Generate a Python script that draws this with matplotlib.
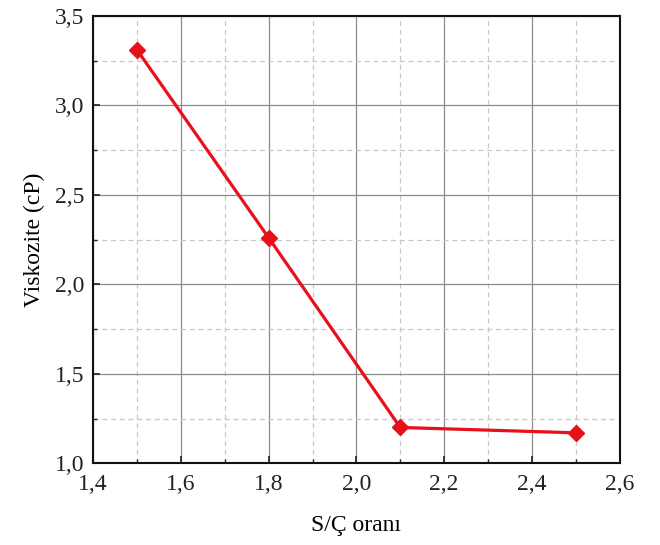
import matplotlib
matplotlib.use("Agg")
import matplotlib.pyplot as plt
from matplotlib.ticker import MultipleLocator, FuncFormatter

sc_ratio = [1.5, 1.8, 2.1, 2.5]
viscosity = [3.31, 2.26, 1.20, 1.17]
x_label = "S/Ç oranı"
y_label = "Viskozite (cP)"

plt.rcParams['font.family'] = ['Liberation Serif', 'DejaVu Serif']

fig = plt.figure(figsize=(6.6, 5.45), dpi=100)
ax = fig.add_axes([0.141, 0.150, 0.798, 0.821])

ax.plot(sc_ratio, viscosity, color='#e8101a', lw=2.3, marker='D', ms=8.5,
        mfc='#e8101a', mec='#e8101a', zorder=5)

ax.set_xlim(1.4, 2.6)
ax.set_ylim(1.0, 3.5)
ax.xaxis.set_major_locator(MultipleLocator(0.2))
ax.xaxis.set_minor_locator(MultipleLocator(0.1))
ax.yaxis.set_major_locator(MultipleLocator(0.5))
ax.yaxis.set_minor_locator(MultipleLocator(0.25))
fmt = FuncFormatter(lambda v, p: f"{v:.1f}".replace('.', ','))
ax.xaxis.set_major_formatter(fmt)
ax.yaxis.set_major_formatter(fmt)

ax.grid(which='major', color='#8c8c8c', lw=0.9, ls='-')
ax.grid(which='minor', color='#c8c8c8', lw=0.9, ls=(0, (4, 3)))
ax.set_axisbelow(True)

ax.tick_params(which='both', direction='in', labelsize=17, colors='#222222')
ax.tick_params(which='major', length=5, width=1.2)
ax.tick_params(which='minor', length=3, width=1.0)
ax.tick_params(axis='x', pad=8)
ax.tick_params(axis='y', pad=6)
for s in ax.spines.values():
    s.set_linewidth(1.5)
    s.set_color('#111111')

ax.set_xlabel(x_label, fontsize=17, labelpad=14)
ax.set_ylabel(y_label, fontsize=17, labelpad=7)

fig.savefig("out.png", dpi=100)
